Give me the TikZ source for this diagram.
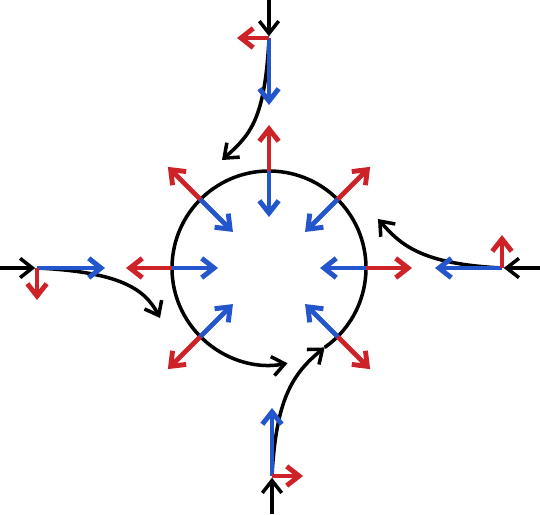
\documentclass[tikz,border=0pt]{standalone}
\usepackage{tikz}
\usetikzlibrary{arrows.meta}
\definecolor{vred}{RGB}{205,35,40}
\definecolor{vblue}{RGB}{35,85,205}
\begin{document}
\begin{tikzpicture}[
    x=0.02cm, y=0.02cm,
    tip/.style={-{Straight Barb[length=7pt, width=11pt]}},
    outarr/.style={tip, line width=2.8pt, vred},
    inarr/.style={tip, line width=2.8pt, vblue},
    flow/.style={tip, line width=2pt, black},
  ]
  \useasboundingbox (0,0) rectangle (540,514);
  \coordinate (c) at (269,246);
  \coordinate (meet) at ([shift={(-55:97)}]c);
  % circle, open where the lower stream joins it
  \draw[flow] (meet) arc[start angle=-55, end angle=281, radius=97];
  % radial pairs on the circle (none at the bottom)
  \foreach \a in {0,45,...,225,315}{
    \coordinate (r\a) at ([shift={(\a:97)}]c);
    \coordinate (o\a) at ([shift={(\a:143)}]c);
    \coordinate (i\a) at ([shift={(\a:51)}]c);
    \draw[outarr] (r\a) -- (o\a);
    \draw[inarr] (r\a) -- (i\a);
  }
  % top stream
  \coordinate (tin) at (269,514);
  \coordinate (tj) at (269,476);
  \coordinate (tred) at (237,476);
  \coordinate (tblue) at (269,409);
  \coordinate (tend) at (222,354);
  \draw[flow] (tj) .. controls (265,394) and (250,379) .. (tend);
  \draw[flow, shorten >=1pt] (tin) -- (tj);
  \draw[inarr] (tj) -- (tblue);
  \draw[outarr] (tj) -- (tred);
  % left stream
  \coordinate (lin) at (0,246);
  \coordinate (lj) at (37,246);
  \coordinate (lred) at (37,214);
  \coordinate (lblue) at (105,246);
  \coordinate (lend) at (160,196);
  \draw[flow] (lj) .. controls (120,242) and (145,225) .. (lend);
  \draw[flow, shorten >=1pt] (lin) -- (lj);
  \draw[inarr] (lj) -- (lblue);
  \draw[outarr] (lj) -- (lred);
  % right stream
  \coordinate (rin) at (540,246);
  \coordinate (rj) at (502,246);
  \coordinate (rred) at (502,279);
  \coordinate (rblue) at (435,246);
  \coordinate (rend) at (378,295);
  \draw[flow] (rj) .. controls (420,250) and (400,270) .. (rend);
  \draw[flow, shorten >=1pt] (rin) -- (rj);
  \draw[inarr] (rj) -- (rblue);
  \draw[outarr] (rj) -- (rred);
  % bottom stream
  \coordinate (bin) at (272,0);
  \coordinate (bj) at (272,38);
  \coordinate (bred) at (303,38);
  \coordinate (bblue) at (272,106);
  \draw[flow] (bj) .. controls (276,114) and (292,140) .. (meet);
  \draw[flow, shorten >=1pt] (bin) -- (bj);
  \draw[inarr] (bj) -- (bblue);
  \draw[outarr] (bj) -- (bred);
\end{tikzpicture}
\end{document}
